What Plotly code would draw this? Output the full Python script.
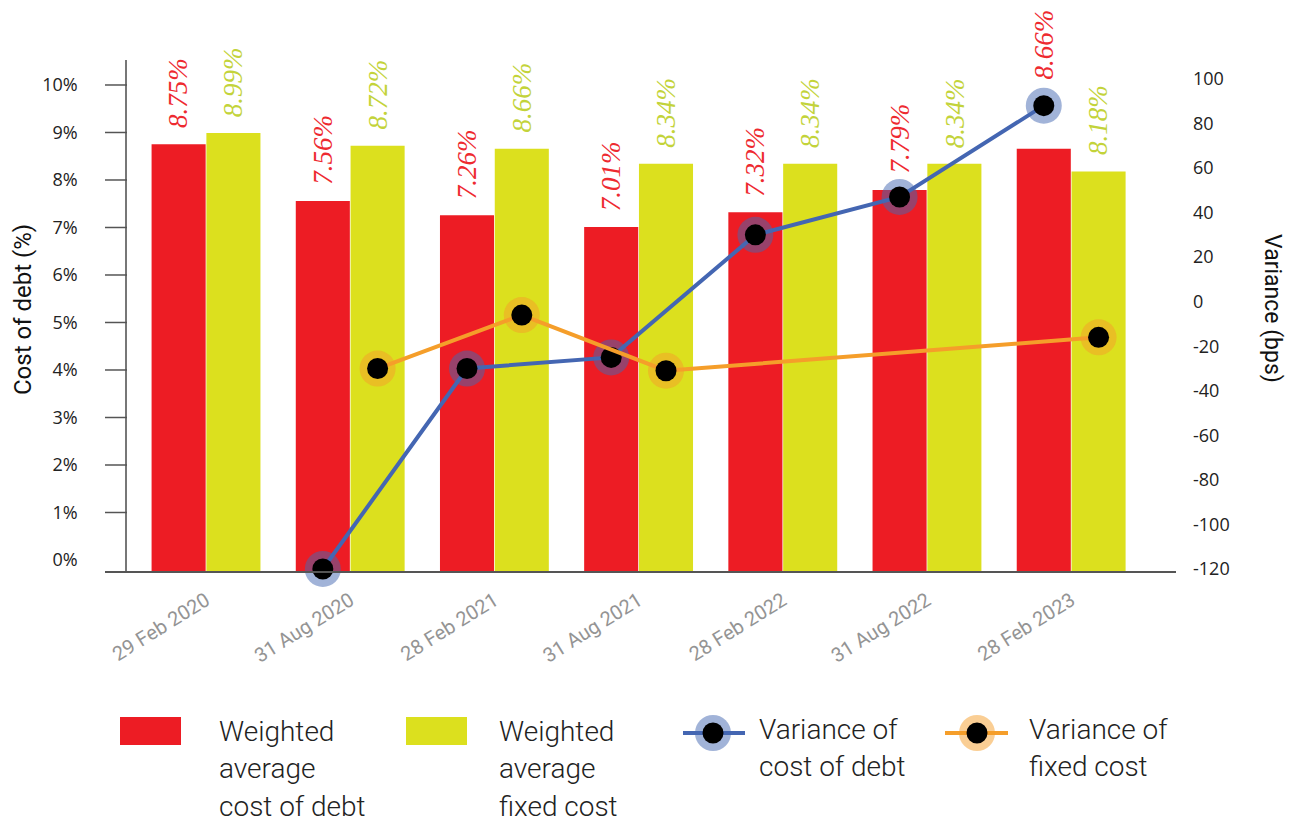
import plotly.graph_objects as go
from plotly.subplots import make_subplots

# ---- data -------------------------------------------------------------
dates = ["29 Feb 2020", "31 Aug 2020", "28 Feb 2021", "31 Aug 2021",
         "28 Feb 2022", "31 Aug 2022", "28 Feb 2023"]
weighted_avg_cost_of_debt = [8.75, 7.56, 7.26, 7.01, 7.32, 7.79, 8.66]   # %
weighted_avg_fixed_cost = [8.99, 8.72, 8.66, 8.34, 8.34, 8.34, 8.18]     # %
variance_cost_of_debt = [None, -120, -30, -25, 30, 47, 88]               # bps
variance_fixed_cost = [None, -30, -6, -31, None, None, -16]              # bps
pct_ticks = list(range(0, 11))
bps_ticks = list(range(-120, 101, 20))

# ---- styling ----------------------------------------------------------
RED = "#ED1C24"
YELLOW = "#DCE01E"
RED_TXT = "#EE2A30"
YELLOW_TXT = "#C3D33A"
BLUE = "#4466B2"
BLUE_HALO = "rgba(68,104,178,0.5)"
ORANGE = "#F59E2A"
ORANGE_HALO = "rgba(245,158,42,0.5)"

W, H = 1290, 825
ML, MR, MT, MB = 127, 114, 60, 253
PW, PH = W - ML - MR, H - MT - MB
PLOT_BOTTOM = H - MB

PCT_FLOOR = -0.2526
PCT_RANGE = [PCT_FLOOR, 10.526]
BPS_RANGE = [-121.35, 108.5]
X_RANGE = [-0.548, 6.727]
BAR_W = 0.375
OFF = 0.19


def px_x(p):
    return (p - ML) / PW


def px_y(p):
    return (PLOT_BOTTOM - p) / PH


def frac(v, rng):
    return (v - rng[0]) / (rng[1] - rng[0])


idx = list(range(len(dates)))
x_debt = [i - OFF for i in idx]
x_fixed = [i + OFF for i in idx]

fig = make_subplots(specs=[[{"secondary_y": True}]])

# bars rise from the bottom of the axis frame up to each value
fig.add_trace(go.Bar(
    x=x_debt, y=[v - PCT_FLOOR for v in weighted_avg_cost_of_debt], base=PCT_FLOOR,
    width=BAR_W, marker=dict(color=RED, line=dict(width=0)),
    name="Weighted average cost of debt", showlegend=False), secondary_y=False)
fig.add_trace(go.Bar(
    x=x_fixed, y=[v - PCT_FLOOR for v in weighted_avg_fixed_cost], base=PCT_FLOOR,
    width=BAR_W, marker=dict(color=YELLOW, line=dict(width=0)),
    name="Weighted average fixed cost", showlegend=False), secondary_y=False)

# variance lines with haloed dots
for xs, ys, col, halo, nm in [
    (x_debt, variance_cost_of_debt, BLUE, BLUE_HALO, "Variance of cost of debt"),
    (x_fixed, variance_fixed_cost, ORANGE, ORANGE_HALO, "Variance of fixed cost"),
]:
    fig.add_trace(go.Scatter(x=xs, y=ys, mode="lines", connectgaps=True,
                             line=dict(color=col, width=4), name=nm,
                             showlegend=False, cliponaxis=False), secondary_y=True)
    fig.add_trace(go.Scatter(x=xs, y=ys, mode="markers",
                             marker=dict(size=36, color=halo, line=dict(width=0)),
                             showlegend=False, hoverinfo="skip", cliponaxis=False),
                  secondary_y=True)
    fig.add_trace(go.Scatter(x=xs, y=ys, mode="markers",
                             marker=dict(size=21, color="black", line=dict(width=0)),
                             showlegend=False, cliponaxis=False), secondary_y=True)

annotations = []
# value labels above the bars (lifted above a variance dot that sits higher than the bar)
for xs, vals, marks, col in [
    (x_debt, weighted_avg_cost_of_debt, variance_cost_of_debt, RED_TXT),
    (x_fixed, weighted_avg_fixed_cost, variance_fixed_cost, YELLOW_TXT),
]:
    for xv, v, m in zip(xs, vals, marks):
        font = dict(family="Liberation Serif", size=27, color=col, style="italic")
        if m is not None and frac(m, BPS_RANGE) > frac(v, PCT_RANGE):
            anchor = dict(y=m, yref="y2", yshift=24)
        else:
            anchor = dict(y=v, yref="y", yshift=14)
        annotations.append(dict(
            x=xv, xref="x", text=f"{v:.2f}%", showarrow=False,
            textangle=-90, xanchor="center", yanchor="bottom", font=font, **anchor))

# axis titles
annotations.append(dict(x=px_x(23), y=px_y(310), xref="paper", yref="paper",
                        xanchor="center", yanchor="middle",
                        text="Cost of debt (%)", textangle=-90, showarrow=False,
                        font=dict(family="Roboto", size=24, color="#111")))
annotations.append(dict(x=px_x(1273), y=px_y(308), xref="paper", yref="paper",
                        xanchor="center", yanchor="middle",
                        text="Variance (bps)", textangle=90, showarrow=False,
                        font=dict(family="Roboto", size=23, color="#111")))

# legend
LEG_FONT = dict(family="Roboto", size=28, color="#222", weight=300)
legend_text = [
    (217, ["Weighted", "average", "cost of debt"], 731),
    (497, ["Weighted", "average", "fixed cost"], 731),
    (757, ["Variance of", "cost of debt"], 729),
    (1027, ["Variance of", "fixed cost"], 729),
]
for x0, lines, y0 in legend_text:
    for k, t in enumerate(lines):
        annotations.append(dict(x=px_x(x0), y=px_y(y0 + 37.5 * k), xref="paper", yref="paper",
                                text=t, showarrow=False, xanchor="left", yanchor="middle",
                                font=LEG_FONT))

shapes = []
# left axis ticks (1%..10%) and the extended baseline
for v in pct_ticks[1:]:
    shapes.append(dict(type="line", xref="paper", yref="y", x0=px_x(105), x1=0,
                       y0=v, y1=v, line=dict(color="#555", width=1.5)))
shapes.append(dict(type="line", xref="paper", yref="paper", x0=px_x(105), x1=1,
                   y0=0, y1=0, line=dict(color="#555", width=2)))

# legend swatches
for x0, x1, col in [(120, 181, RED), (406, 467, YELLOW)]:
    shapes.append(dict(type="rect", xref="paper", yref="paper",
                       x0=px_x(x0), x1=px_x(x1), y0=px_y(745), y1=px_y(717),
                       fillcolor=col, line=dict(width=0)))
for xa, xb, cx, col, halo in [(683, 745, 713, BLUE, BLUE_HALO),
                              (945, 1008, 977, ORANGE, ORANGE_HALO)]:
    cy = 733
    shapes.append(dict(type="line", xref="paper", yref="paper",
                       x0=px_x(xa), x1=px_x(xb), y0=px_y(cy), y1=px_y(cy),
                       line=dict(color=col, width=4)))
    shapes.append(dict(type="circle", xref="paper", yref="paper",
                       x0=px_x(cx - 18), x1=px_x(cx + 18), y0=px_y(cy + 18), y1=px_y(cy - 18),
                       fillcolor=halo, line=dict(width=0)))
    shapes.append(dict(type="circle", xref="paper", yref="paper",
                       x0=px_x(cx - 10.5), x1=px_x(cx + 10.5), y0=px_y(cy + 10.5), y1=px_y(cy - 10.5),
                       fillcolor="black", line=dict(width=0)))

fig.update_layout(
    width=W, height=H,
    margin=dict(l=ML, r=MR, t=MT, b=MB, autoexpand=False),
    paper_bgcolor="white", plot_bgcolor="white",
    barmode="overlay", showlegend=False,
    annotations=annotations, shapes=shapes,
)
fig.update_xaxes(domain=[0, 1], range=X_RANGE, tickvals=idx, ticktext=dates, tickangle=-32,
                 tickfont=dict(family="Roboto", size=20, color="#949494"),
                 ticks="", ticklabelstandoff=12, showgrid=False, zeroline=False,
                 showline=False)
fig.update_yaxes(range=PCT_RANGE, tickvals=pct_ticks,
                 ticktext=[f"{v}%" for v in pct_ticks],
                 tickfont=dict(family="Open Sans", size=18, color="#222"),
                 ticks="", ticklabelstandoff=44, showgrid=False, zeroline=False,
                 showline=True, linecolor="#777", linewidth=1.5, secondary_y=False)
fig.update_yaxes(range=BPS_RANGE, tickvals=bps_ticks,
                 ticktext=[str(v) for v in bps_ticks],
                 tickfont=dict(family="Open Sans", size=18, color="#222"),
                 ticks="", ticklabelstandoff=16, showgrid=False, zeroline=False,
                 showline=False, secondary_y=True)

fig.write_html("out.html")
